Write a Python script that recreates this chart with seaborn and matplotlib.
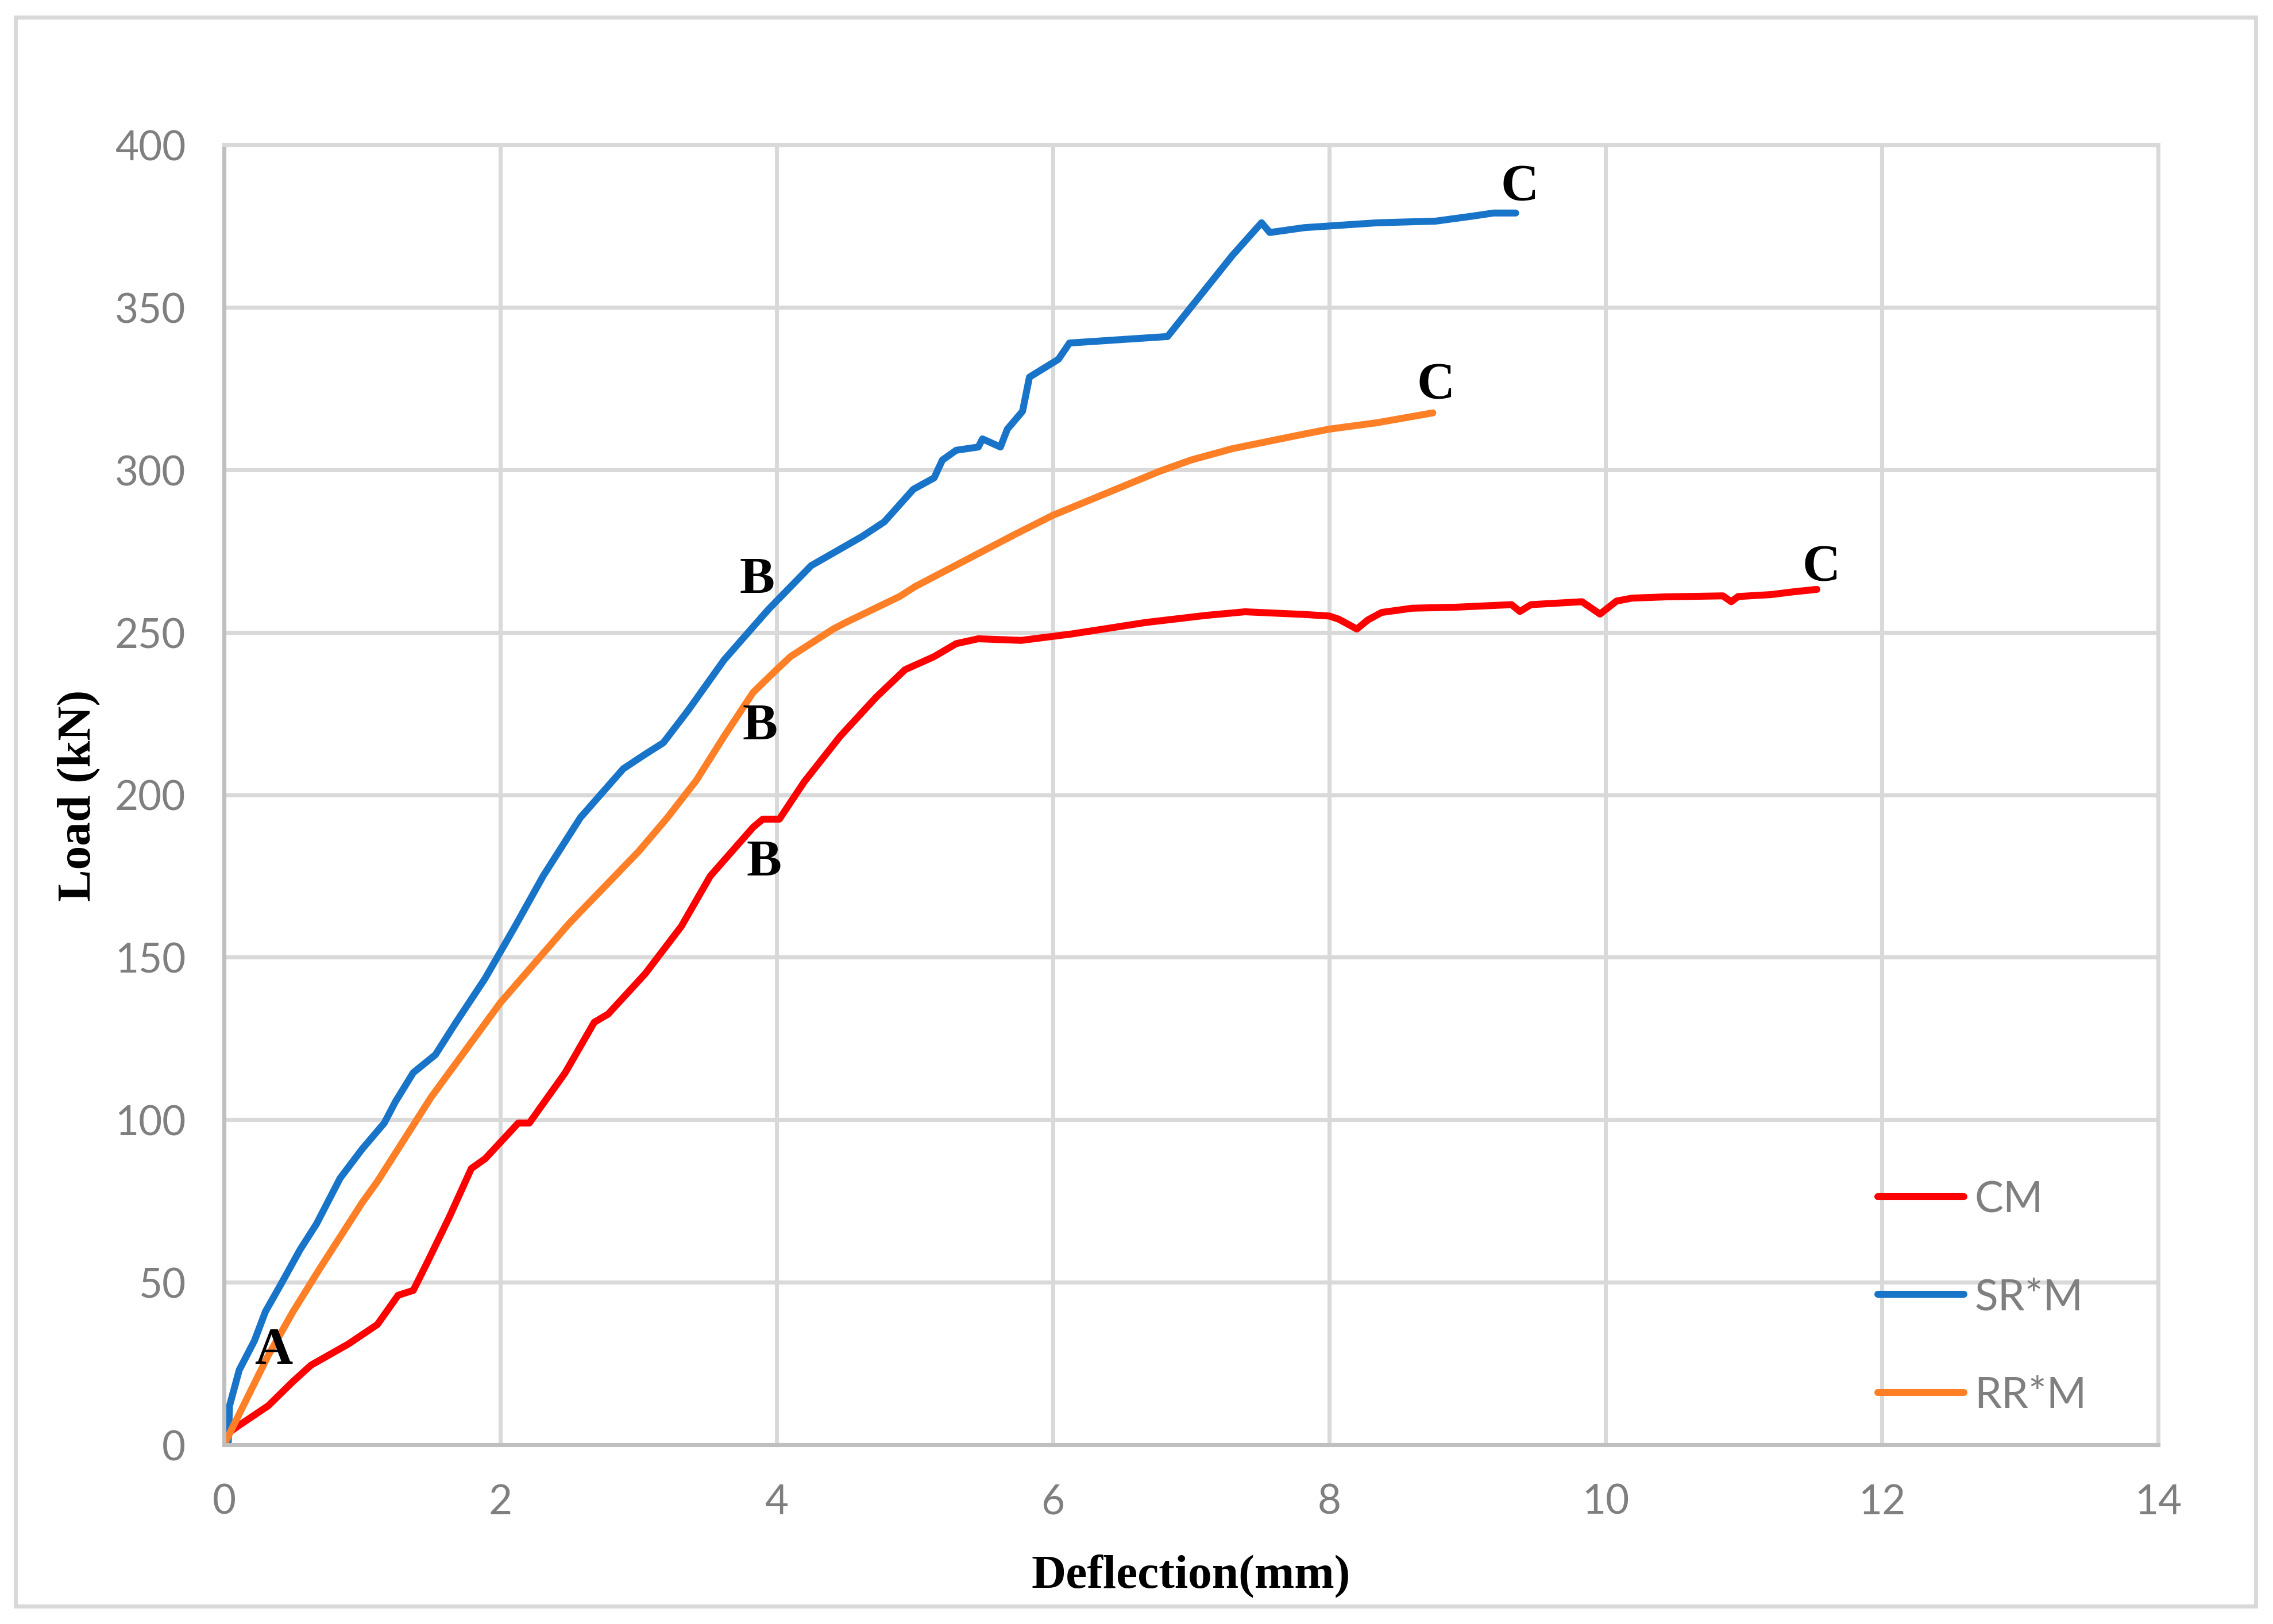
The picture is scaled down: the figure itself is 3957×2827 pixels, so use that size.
import matplotlib
matplotlib.use('Agg')
import matplotlib.pyplot as plt
from matplotlib.patches import Rectangle
import numpy as np
import pandas as pd
import seaborn as sns

sns.set_theme(style="whitegrid")
plt.rcParams['font.family'] = ['Lato', 'DejaVu Sans']

# load-deflection curves
cm_defl = [0.0, 0.01, 0.11, 0.32, 0.5, 0.63, 0.9, 1.11, 1.26, 1.37, 1.47, 1.63, 1.79, 1.89,
           2.13, 2.21, 2.47, 2.68, 2.78, 3.05, 3.31, 3.52, 3.83, 3.9, 4.02, 4.2, 4.46,
           4.72, 4.93, 5.14, 5.3, 5.46, 5.77, 6.14, 6.67, 7.11, 7.39, 7.81, 8.0, 8.07,
           8.2, 8.28, 8.38, 8.6, 8.91, 9.32, 9.38, 9.46, 9.83, 9.96, 10.08, 10.19, 10.44,
           10.85, 10.91, 10.96, 11.2, 11.35, 11.53]
cm_load = [0.0, 3.0, 6.0, 12.0, 19.5, 24.5, 31.0, 37.0, 46.0, 47.5, 56.0, 70.0, 85.0, 88.0,
           99.0, 99.0, 114.5, 130.0, 132.5, 145.0, 159.5, 175.0, 190.0, 192.5, 192.5, 204.0, 218.0,
           230.0, 238.5, 242.5, 246.5, 248.0, 247.5, 249.5, 253.0, 255.2, 256.3, 255.5, 255.0, 254.0,
           251.0, 253.8, 256.1, 257.4, 257.7, 258.5, 256.4, 258.5, 259.4, 255.6, 259.6, 260.5, 260.9,
           261.2, 259.4, 261.0, 261.6, 262.4, 263.2]

sr_defl = [0.0, 0.03, 0.04, 0.11, 0.22, 0.3, 0.42, 0.55, 0.67, 0.84, 1.0, 1.16, 1.24,
           1.37, 1.53, 1.68, 1.89, 2.1, 2.31, 2.58, 2.89, 3.05, 3.18, 3.36, 3.62, 3.94,
           4.25, 4.62, 4.78, 4.99, 5.14, 5.2, 5.3, 5.46, 5.49, 5.62, 5.67, 5.78, 5.83,
           6.04, 6.12, 6.83, 6.98, 7.3, 7.51, 7.57, 7.82, 8.35, 8.77, 9.03, 9.19, 9.35]
sr_load = [0.0, 0.0, 12.0, 23.0, 32.0, 41.0, 50.0, 60.0, 68.0, 82.0, 91.0, 99.0, 105.5,
           114.5, 120.0, 130.0, 143.5, 159.0, 175.0, 193.0, 208.0, 212.5, 216.0, 226.0, 241.5, 257.0,
           270.5, 279.5, 284.0, 294.0, 297.5, 303.0, 306.0, 307.0, 309.5, 307.0, 312.5, 318.0, 328.5,
           334.0, 339.0, 341.0, 349.0, 366.0, 376.0, 373.0, 374.5, 376.0, 376.5, 378.0, 379.0, 379.0]

rr_defl = [0.0, 0.32, 0.5, 0.69, 1.0, 1.11, 1.5, 2.0, 2.5, 3.0, 3.21, 3.42, 3.62, 3.83, 4.0,
           4.1, 4.41, 4.5, 4.89, 5.0, 5.72, 6.0, 6.77, 7.0, 7.3, 7.82, 8.0, 8.35, 8.75]
rr_load = [0.0, 27.5, 41.0, 54.0, 74.5, 81.0, 107.0, 136.0, 160.5, 182.5, 193.0, 204.5, 218.0, 231.5,
           238.5, 242.5, 251.0, 253.0, 261.0, 264.0, 280.0, 286.0, 299.5, 303.0, 306.5, 311.0, 312.5,
           314.5, 317.5]

labels = ['CM', 'SR*M', 'RR*M']
colors = {'CM': '#ff0000', 'SR*M': '#1874c8', 'RR*M': '#ff7f27'}

# point labels (text, x, y)
point_names = ['A', 'B', 'B', 'B', 'C', 'C', 'C']
point_x = [0.36, 3.86, 3.88, 3.91, 9.38, 8.77, 11.56]
point_y = [29, 266, 221, 179, 387, 326, 270]

df = pd.concat([
    pd.DataFrame({'Deflection': cm_defl, 'Load': cm_load, 'Specimen': 'CM'}),
    pd.DataFrame({'Deflection': sr_defl, 'Load': sr_load, 'Specimen': 'SR*M'}),
    pd.DataFrame({'Deflection': rr_defl, 'Load': rr_load, 'Specimen': 'RR*M'}),
], ignore_index=True)

fig = plt.figure(figsize=(3957 / 300, 2828 / 300), dpi=300)
ax = fig.add_axes([390 / 3957, 1 - 2516 / 2828, (3757 - 390) / 3957, (2516 - 253) / 2828])

sns.lineplot(data=df, x='Deflection', y='Load', hue='Specimen', hue_order=labels,
             palette=colors, sort=False, estimator=None, linewidth=2.9,
             solid_capstyle='round', solid_joinstyle='round', ax=ax)

ax.set_xlim(0, 14)
ax.set_ylim(0, 400)
ax.set_xticks(np.arange(0, 15, 2))
ax.set_yticks(np.arange(0, 401, 50))
ax.grid(True, color='#d9d9d9', linewidth=1.7)
ax.set_axisbelow(True)
for side in ['left', 'bottom']:
    ax.spines[side].set_color('#bfbfbf')
    ax.spines[side].set_linewidth(1.7)
for side in ['top', 'right']:
    ax.spines[side].set_color('#d9d9d9')
    ax.spines[side].set_linewidth(1.7)
ax.tick_params(length=0, labelsize=17, labelcolor='#7f7f7f', pad=16)

ax.set_xlabel('Deflection(mm)', fontsize=20, fontweight='bold', family='Liberation Serif',
              color='black', labelpad=14)
ax.set_ylabel('Load (kN)', fontsize=20, fontweight='bold', family='Liberation Serif',
              color='black', labelpad=6)

for name, px, py in zip(point_names, point_x, point_y):
    ax.text(px, py, name, fontsize=22, fontweight='bold', family='Liberation Serif',
            ha='center', va='center', color='black')

handles, labs = ax.get_legend_handles_labels()
leg = ax.legend(handles, labs, loc='upper left', bbox_to_anchor=(0.855, 0.204),
                frameon=False, fontsize=18, handlelength=2.0, handletextpad=0.25,
                labelspacing=1.35, borderpad=0, borderaxespad=0)
for t in leg.get_texts():
    t.set_color('#7f7f7f')
for h in leg.get_lines():
    h.set_linewidth(2.9)
    h.set_solid_capstyle('round')

fig.patches.append(Rectangle((27 / 3957, 31 / 2828), 3900 / 3957, 2766 / 2828,
                             transform=fig.transFigure, fill=False,
                             edgecolor='#d9d9d9', linewidth=1.7))

fig.savefig('out.png', dpi=300)
